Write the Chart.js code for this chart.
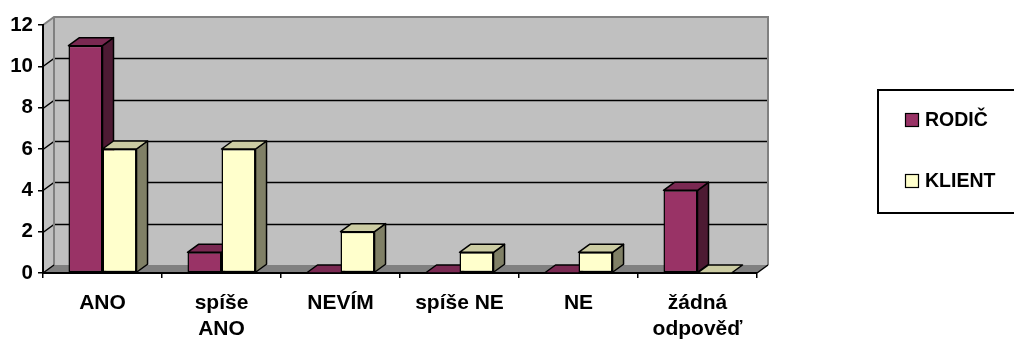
<!DOCTYPE html>
<html>
<head>
<meta charset="utf-8">
<script src="https://cdn.jsdelivr.net/npm/chart.js@4/dist/chart.umd.min.js"></script>
<style>
  html, body { margin: 0; padding: 0; background: #fff; }
  #wrap { width: 1014px; height: 342px; position: relative; }
</style>
</head>
<body>
<div id="wrap"><canvas id="c" width="1014" height="342"></canvas></div>
<script>
// Survey answers, counted per respondent group
const categories = [['ANO'], ['spíše', 'ANO'], ['NEVÍM'], ['spíše NE'], ['NE'], ['žádná', 'odpověď']];
const seriesNames = ['RODIČ', 'KLIENT'];
const rodic = [11, 1, 0, 0, 0, 4];
const klient = [6, 6, 2, 1, 1, 0];
const yTicks = [0, 2, 4, 6, 8, 10, 12];

const FONT = "'Liberation Sans', Arial, Helvetica, sans-serif";
const DX = 11, DY = -8;          // depth offset of the 3D box
const palette = [
  { front: '#993366', top: '#7a2952', side: '#4d1a33' },
  { front: '#ffffcc', top: '#cccca3', side: '#808066' }
];

function poly(ctx, pts, fill, stroke, lw) {
  ctx.beginPath();
  ctx.moveTo(pts[0][0], pts[0][1]);
  for (let i = 1; i < pts.length; i++) ctx.lineTo(pts[i][0], pts[i][1]);
  ctx.closePath();
  if (fill) { ctx.fillStyle = fill; ctx.fill(); }
  if (stroke) { ctx.strokeStyle = stroke; ctx.lineWidth = lw || 1; ctx.stroke(); }
}

const threeD = {
  id: 'threeD',
  beforeDraw(chart) {
    const { ctx, chartArea: a, scales: { y } } = chart;
    const L = a.left, R = a.right, T = a.top, B = a.bottom;
    ctx.save();
    ctx.lineJoin = 'miter';
    // side wall and back wall
    poly(ctx, [[L, B], [L, T], [L + DX, T + DY], [L + DX, B + DY]], '#c0c0c0');
    poly(ctx, [[L + DX, T + DY], [R + DX, T + DY], [R + DX, B + DY], [L + DX, B + DY]], '#c0c0c0');
    // floor
    poly(ctx, [[L, B], [R, B], [R + DX, B + DY], [L + DX, B + DY]], '#808080');
    // gridlines across the side wall and along the back wall
    ctx.strokeStyle = '#000';
    ctx.lineWidth = 1.5;
    yTicks.forEach(v => {
      if (v === yTicks[0] || v === yTicks[yTicks.length - 1]) return;
      const py = Math.round(y.getPixelForValue(v)) + 0.5;
      ctx.beginPath();
      ctx.moveTo(L, py);
      ctx.lineTo(L + DX, py + DY);
      ctx.lineTo(R + DX, py + DY);
      ctx.stroke();
    });
    // wall outlines
    ctx.strokeStyle = '#808080';
    ctx.lineWidth = 2;
    ctx.beginPath();
    ctx.moveTo(L, T);
    ctx.lineTo(L + DX, T + DY);
    ctx.lineTo(R + DX, T + DY);
    ctx.lineTo(R + DX, B + DY);
    ctx.moveTo(L + DX, T + DY);
    ctx.lineTo(L + DX, B + DY);
    ctx.stroke();
    // floor edges
    ctx.strokeStyle = '#000';
    ctx.lineWidth = 1.5;
    ctx.beginPath();
    ctx.moveTo(L, B);
    ctx.lineTo(L + DX, B + DY);
    ctx.moveTo(R, B);
    ctx.lineTo(R + DX, B + DY);
    ctx.stroke();
    ctx.restore();
  },
  beforeDatasetsDraw(chart) {
    const ctx = chart.ctx;
    const n = chart.data.labels.length;
    ctx.save();
    ctx.lineJoin = 'round';
    for (let i = 0; i < n; i++) {
      chart.data.datasets.forEach((ds, d) => {
        const el = chart.getDatasetMeta(d).data[i];
        const p = el.getProps(['x', 'y', 'base', 'width'], true);
        const left = p.x - p.width / 2, right = p.x + p.width / 2;
        const top = Math.min(p.y, p.base), base = Math.max(p.y, p.base);
        const col = palette[d];
        if (base - top > 0.5) {
          poly(ctx, [[right, top], [right + DX, top + DY], [right + DX, base + DY], [right, base]], col.side, '#000', 1.5);
        }
        poly(ctx, [[left, top], [left + DX, top + DY], [right + DX, top + DY], [right, top]], col.top, '#000', 1.5);
        if (base - top > 0.5) el.draw(ctx, chart.chartArea);
      });
    }
    ctx.restore();
    return false;
  },
  afterDraw(chart) {
    const ctx = chart.ctx;
    ctx.save();
    // legend frame
    ctx.fillStyle = '#fff';
    ctx.fillRect(878, 90, 140, 123);
    ctx.strokeStyle = '#000';
    ctx.lineWidth = 2;
    ctx.strokeRect(878, 90, 140, 123);
    const rows = [120, 181];
    chart.data.datasets.forEach((ds, d) => {
      const cy = rows[d];
      ctx.fillStyle = palette[d].front;
      ctx.fillRect(905.5, cy - 6.5, 13, 13);
      ctx.strokeStyle = '#000';
      ctx.lineWidth = 1.2;
      ctx.strokeRect(905.5, cy - 6.5, 13, 13);
      ctx.fillStyle = '#000';
      ctx.font = 'bold 19.5px ' + FONT;
      ctx.textBaseline = 'middle';
      ctx.textAlign = 'left';
      ctx.fillText(ds.label, 925, cy + 1);
    });
    ctx.restore();
  }
};

new Chart(document.getElementById('c'), {
  type: 'bar',
  data: {
    labels: categories,
    datasets: [
      { label: seriesNames[0], data: rodic, backgroundColor: palette[0].front, borderColor: '#000', borderWidth: 1.5, borderSkipped: false },
      { label: seriesNames[1], data: klient, backgroundColor: palette[1].front, borderColor: '#000', borderWidth: 1.5, borderSkipped: false }
    ]
  },
  options: {
    responsive: false,
    animation: false,
    devicePixelRatio: 1,
    layout: { padding: { top: 25, right: 257, left: 0, bottom: 0 } },
    datasets: { bar: { categoryPercentage: 0.572, barPercentage: 1 } },
    plugins: { legend: { display: false }, tooltip: { enabled: false } },
    scales: {
      x: {
        offset: true,
        grid: { offset: true, drawOnChartArea: false, drawTicks: true, tickLength: 5, color: '#000', lineWidth: 1.5 },
        border: { display: true, color: '#000', width: 2 },
        ticks: { font: { family: FONT, size: 21, weight: 'bold', lineHeight: 1.24 }, color: '#000', padding: 12, maxRotation: 0, autoSkip: false },
        afterFit(s) { s.height = 69; }
      },
      y: {
        min: 0,
        max: 12,
        grid: { drawOnChartArea: false, drawTicks: true, tickLength: 5, color: '#000', lineWidth: 1.5 },
        border: { display: true, color: '#000', width: 2 },
        ticks: { font: { family: FONT, size: 20.5, weight: 'bold' }, color: '#000', padding: 5, stepSize: 2 },
        afterBuildTicks(s) { s.ticks = yTicks.map(v => ({ value: v })); },
        afterFit(s) { s.width = 43; }
      }
    }
  },
  plugins: [threeD]
});
</script>
</body>
</html>
